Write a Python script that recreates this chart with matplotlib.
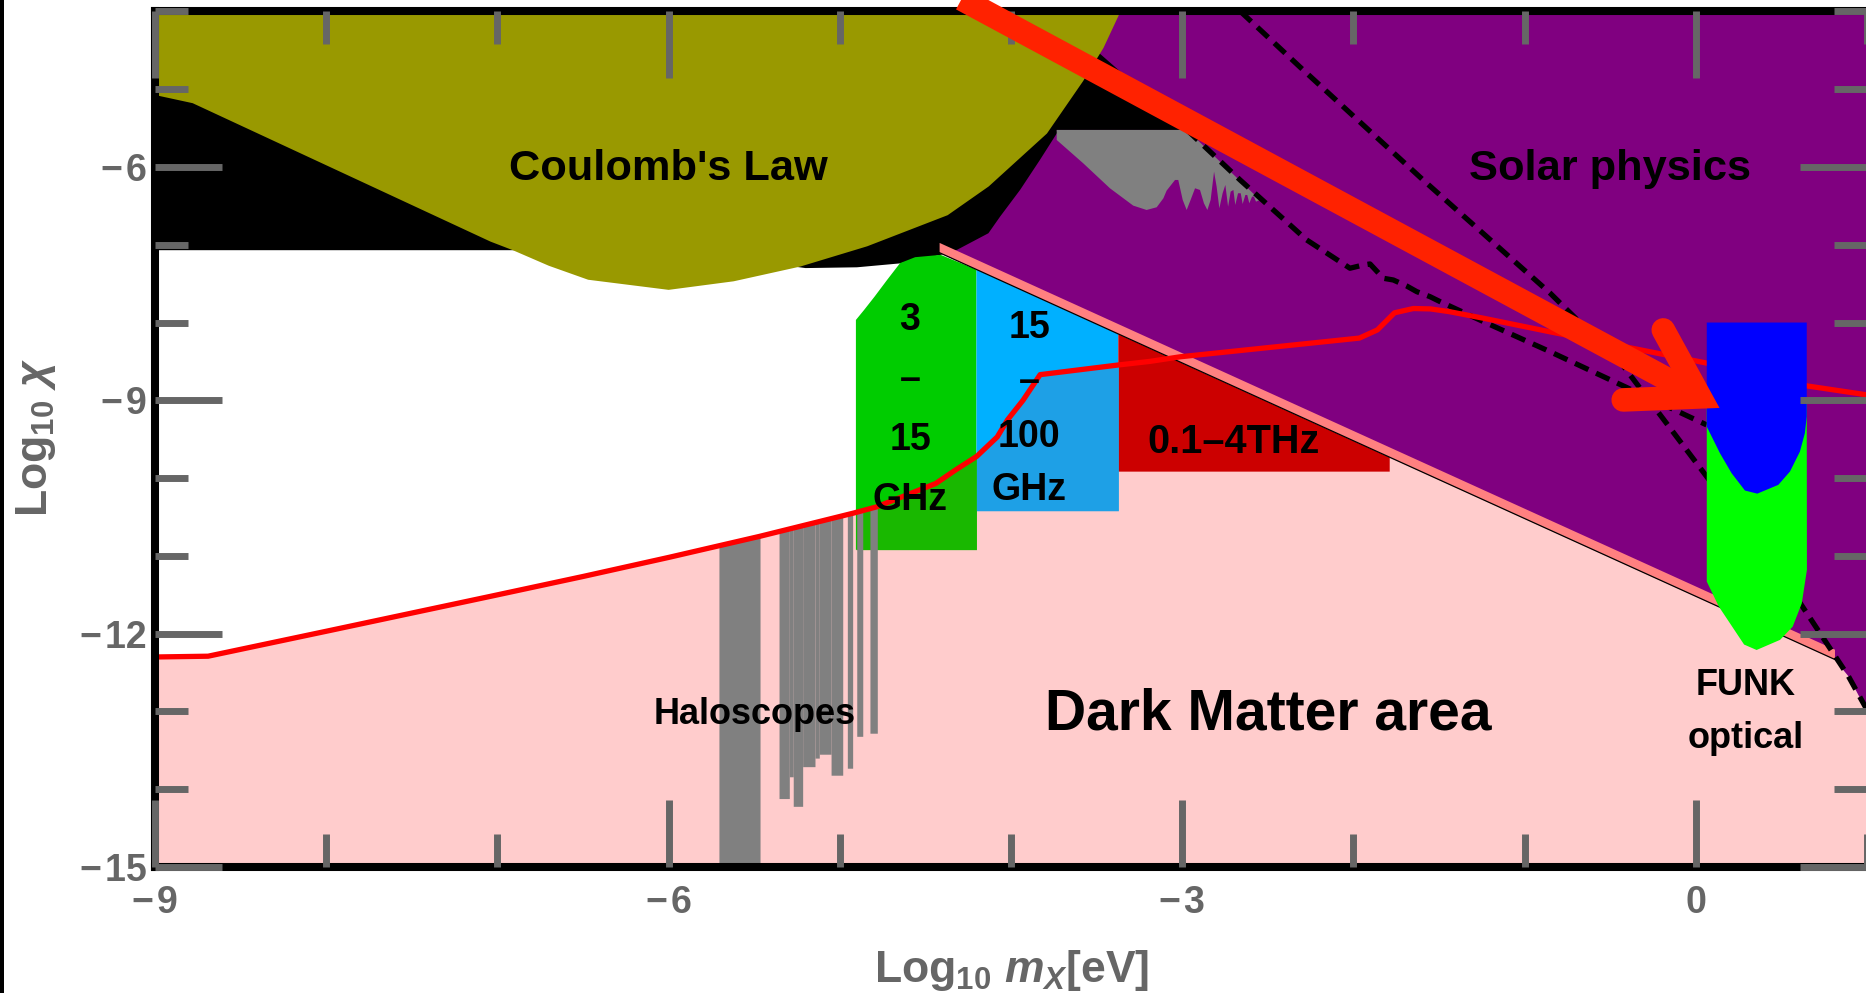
import numpy as np
import matplotlib
matplotlib.use("Agg")
import matplotlib.pyplot as plt
from matplotlib.patches import Polygon, Rectangle

plt.rcParams["font.family"] = ["Liberation Sans", "DejaVu Sans"]
plt.rcParams["mathtext.fontset"] = "custom"
plt.rcParams["mathtext.rm"] = "Liberation Sans:bold"
plt.rcParams["mathtext.it"] = "Liberation Sans:italic:bold"
plt.rcParams["mathtext.bf"] = "Liberation Sans:bold"

# ---------------- axes ----------------
X_LIM = (-9.0, 1.0)
Y_LIM = (-15.0, -4.0)
X_MAJOR = [-9, -6, -3, 0]
Y_MAJOR = [-15, -12, -9, -6]
X_MINOR = list(range(-9, 2))
Y_MINOR = list(range(-15, -3))

# ---------------- dark matter area edge (chi ~ 1/m) and its steep tail ----------------
DIAG_X = [-4.42, 0.81]
DIAG_Y = [-7.10, -12.33]
DM_EDGE_X = [-7.52, 0.81, 0.892, 1.0]
DM_EDGE_Y = [-4.0, -12.33, -12.55, -13.0]

# ---------------- solar physics region ----------------
SOLAR_X = [-4.42, 1.0, 1.0, 0.892, 0.81, -4.42]
SOLAR_Y = [-4.0, -4.0, -13.0, -12.55, -12.33, -7.10]

# ---------------- black exclusion band ----------------
BLACK_X = [-9.0, -9.0, -6.0, -5.2, -4.9, -4.65, -4.41, -4.316, -4.132, -4.064,
           -3.947, -3.831, -3.731, -3.733, -2.972, -3.492, -3.76]
BLACK_Y = [-4.0, -7.07, -7.07, -7.30, -7.29, -7.24, -7.13, -7.066, -6.852, -6.639,
           -6.295, -5.909, -5.563, -5.524, -5.524, -4.522, -4.0]

# ---------------- Coulomb's law ----------------
COULOMB_X = [-9.0, -9.0, -8.78, -7.04, -6.91, -6.70, -6.47, -6.0, -5.62, -5.23, -4.84,
             -4.37, -4.13, -3.95, -3.79, -3.58, -3.46, -3.36]
COULOMB_Y = [-4.0, -5.075, -5.18, -6.96, -7.07, -7.27, -7.45, -7.58, -7.47, -7.28, -7.02,
             -6.62, -6.25, -5.89, -5.57, -4.90, -4.47, -4.0]

# ---------------- light-shining-through-wall region (gray) ----------------
LSW_X = [-3.733, -2.972, -2.546, -2.569, -2.581, -2.592, -2.608, -2.620, -2.631, -2.647,
         -2.658, -2.674, -2.690, -2.701, -2.717, -2.732, -2.748, -2.764, -2.783, -2.799,
         -2.814, -2.834, -2.853, -2.873, -2.896, -2.925, -2.951, -2.974, -2.997, -3.023,
         -3.042, -3.091, -3.110, -3.149, -3.208, -3.286, -3.422, -3.578, -3.733]
LSW_Y = [-5.524, -5.524, -6.424, -6.446, -6.381, -6.381, -6.467, -6.360, -6.360, -6.476,
         -6.338, -6.338, -6.488, -6.296, -6.317, -6.510, -6.231, -6.338, -6.531, -6.253,
         -6.060, -6.424, -6.553, -6.467, -6.296, -6.274, -6.424, -6.553, -6.424, -6.167,
         -6.167, -6.304, -6.403, -6.518, -6.553, -6.497, -6.274, -5.953, -5.653]

# ---------------- red sensitivity curve ----------------
RED_X = [-9.0, -8.69, -7.98, -7.04, -6.50, -6.00, -5.47, -4.92, -4.785, -4.44, -4.32,
         -4.20, -4.08, -4.02, -3.93, -3.83, -3.37, -3.19, -3.01, -1.965, -1.86, -1.76,
         -1.65, -1.55, -1.44, -1.24, -0.85, 0.06, 0.65, 1.0]
RED_Y = [-12.30, -12.29, -11.96, -11.52, -11.265, -11.02, -10.75, -10.45, -10.37, -10.07,
         -9.89, -9.72, -9.47, -9.25, -9.00, -8.67, -8.545, -8.50, -8.44, -8.20, -8.095,
         -7.875, -7.82, -7.825, -7.86, -7.945, -8.12, -8.52, -8.815, -8.93]

# ---------------- dashed limits ----------------
DASH_A_X = [-2.66, -2.312, -1.593, -0.852, -0.437, 0.065, 0.609, 0.892, 1.0]
DASH_A_Y = [-4.0, -4.715, -6.167, -7.620, -8.519, -9.985, -11.605, -12.55, -12.98]
DASH_B_X = [-2.972, -2.662, -2.273, -2.020, -1.942, -1.903, -1.825, -1.767, -1.689,
            -1.630, -1.553, -1.494, -1.241, -0.852, 0.063]
DASH_B_Y = [-5.524, -6.167, -6.938, -7.302, -7.260, -7.247, -7.431, -7.453, -7.530,
            -7.603, -7.667, -7.731, -7.988, -8.374, -9.316]

# ---------------- frequency bands: 3 GHz, 15 GHz, 100 GHz, 4 THz ----------------
BAND_EDGES = [-4.906, -4.202, -3.373, -1.788]
BAND_BOTTOMS = [-10.92, -10.42, -9.917]
GREEN_CORNER_X = [-4.906, -4.858, -4.797, -4.724, -4.648, -4.56, -4.411]
GREEN_CORNER_Y = [-7.967, -7.838, -7.667, -7.453, -7.236, -7.16, -7.13]

# ---------------- haloscopes: (left, right, lower limit) ----------------
HALO_LEFT = [-5.706, -5.355, -5.295, -5.272, -5.217, -5.145, -5.120, -5.051, -4.956, -4.901, -4.824]
HALO_RIGHT = [-5.466, -5.295, -5.272, -5.217, -5.145, -5.120, -5.051, -4.983, -4.925, -4.866, -4.781]
HALO_BOTTOM = [-15.0, -14.12, -13.84, -14.22, -13.71, -13.60, -13.55, -13.82, -13.73, -13.32, -13.28]

# ---------------- FUNK ----------------
FUNK_BLUE_X = [0.064, 0.064, 0.141, 0.209, 0.287, 0.359, 0.482, 0.55, 0.608, 0.637, 0.648, 0.648]
FUNK_BLUE_Y = [-8.0, -9.338, -9.68, -9.937, -10.16, -10.20, -10.087, -9.916, -9.66, -9.423, -9.21, -8.0]
FUNK_GREEN_X = [0.064, 0.648, 0.649, 0.619, 0.566, 0.492, 0.355, 0.282, 0.134, 0.064]
FUNK_GREEN_Y = [-9.0, -9.0, -11.18, -11.61, -11.91, -12.08, -12.21, -12.14, -11.65, -11.33]

# ---------------- pointer arrow ----------------
ARROW_TAIL = (-4.66, -3.40)
ARROW_VERTEX = (0.0245, -8.956)
ARROW_BARBS = [(-0.190, -8.095), (-0.424, -8.995)]

PINK = "#FFCCCC"
PURPLE = "#800080"
OLIVE = "#999900"
GRAY = "#808080"
SALMON = "#FF8080"
TICK_GRAY = "#666666"
ARROW_RED = "#FF2200"
MINUS = "\u2212\u200a"

fig = plt.figure(figsize=(18.66, 9.93), dpi=100)
ax = fig.add_axes([0.08307, 0.12689, 0.91747, 0.86163])
ax.set_xlim(*X_LIM)
ax.set_ylim(*Y_LIM)


def poly(xs, ys, color, z):
    ax.add_patch(Polygon(np.column_stack([xs, ys]), closed=True,
                         facecolor=color, edgecolor="none", zorder=z))


def red_at(x):
    return np.interp(x, RED_X, RED_Y)


def diag_at(x):
    return np.interp(x, DIAG_X, DIAG_Y)


# dark matter area
poly([X_LIM[0], X_LIM[0]] + DM_EDGE_X + [X_LIM[1]],
     [Y_LIM[0], Y_LIM[1]] + DM_EDGE_Y + [Y_LIM[0]], PINK, 1.0)

# open parameter space above the red curve
rx = np.array(RED_X)
ry = np.array(RED_Y)
keep = rx <= -4.2
poly(list(rx[keep]) + [-4.2, -9.0], list(ry[keep]) + [-4.0, -4.0], "white", 1.05)

poly(SOLAR_X, SOLAR_Y, PURPLE, 1.1)
poly(BLACK_X, BLACK_Y, "black", 1.2)
poly(COULOMB_X, COULOMB_Y, OLIVE, 1.3)
poly(LSW_X, LSW_Y, GRAY, 1.4)

# frequency bands
g0, g1, b1, t1 = BAND_EDGES
gx = [g0] + GREEN_CORNER_X + [g1, g1]
gy = [BAND_BOTTOMS[0]] + GREEN_CORNER_Y + [float(diag_at(g1)), BAND_BOTTOMS[0]]
poly(gx, gy, "#00CC00", 1.5)
xs = np.linspace(g0, g1, 200)
ax.fill_between(xs, BAND_BOTTOMS[0], red_at(xs), color="#19B800", lw=0, zorder=1.51)

poly([g1, g1, b1, b1], [BAND_BOTTOMS[1], diag_at(g1), diag_at(b1), BAND_BOTTOMS[1]], "#00B0FF", 1.5)
xs = np.linspace(g1, b1, 200)
ax.fill_between(xs, BAND_BOTTOMS[1], red_at(xs), color="#1EA0E6", lw=0, zorder=1.51)

poly([b1, b1, t1, t1], [BAND_BOTTOMS[2], diag_at(b1), diag_at(t1), BAND_BOTTOMS[2]], "#CC0000", 1.5)

# edge of the dark matter area
dx = np.array(DIAG_X)
dy = np.array(DIAG_Y)
ax.fill_between(dx, dy, dy + 0.13, color=SALMON, lw=0, zorder=1.6)
ax.plot(dx, dy, color="black", lw=0.9, zorder=1.65)

# haloscope exclusions, reaching up to the red curve
for x0, x1, b in zip(HALO_LEFT, HALO_RIGHT, HALO_BOTTOM):
    xs = np.linspace(x0, x1, 20)
    ax.fill_between(xs, b, red_at(xs), color=GRAY, lw=0, zorder=1.7)

ax.plot(DASH_A_X, DASH_A_Y, color="black", lw=3.8, ls=(0, (2.8, 1.6)), zorder=1.8)
ax.plot(DASH_B_X, DASH_B_Y, color="black", lw=3.8, ls=(0, (2.8, 1.6)), zorder=1.8)
ax.plot(RED_X, RED_Y, color="#FF0000", lw=3.8, zorder=1.9, solid_joinstyle="round")

poly(FUNK_GREEN_X, FUNK_GREEN_Y, "#00FF00", 2.0)
poly(FUNK_BLUE_X, FUNK_BLUE_Y, "#0000FF", 2.05)


# labels inside the plot
def label(x, y, s, size):
    ax.text(x, y, s, ha="center", va="baseline", fontsize=size, fontweight="bold",
            color="black", zorder=2.2)


label(-6.0, -6.167, "Coulomb's Law", 31.2)
label(-0.50, -6.167, "Solar physics", 31.2)
label(-2.495, -13.237, "Dark Matter area", 41)
label(-5.50, -13.16, "Haloscopes", 26)
label(0.291, -12.787, "FUNK", 26)
label(0.291, -13.47, "optical", 26)
for y, s in zip([-8.095, -8.87, -9.637, -10.409], ["3", "\u2013", "15", "GHz"]):
    label(-4.59, y, s, 27)
for y, s in zip([-8.202, -8.896, -9.595, -10.28], ["15", "\u2013", "100", "GHz"]):
    label(-3.893, y, s, 27)
label(-2.698, -9.68, "0.1\u20134THz", 28.5)

# pointer arrow
ax.plot([ARROW_TAIL[0], ARROW_VERTEX[0]], [ARROW_TAIL[1], ARROW_VERTEX[1]],
        color=ARROW_RED, lw=17, solid_capstyle="butt", clip_on=False, zorder=3)
ax.plot([ARROW_BARBS[0][0], ARROW_VERTEX[0], ARROW_BARBS[1][0]],
        [ARROW_BARBS[0][1], ARROW_VERTEX[1], ARROW_BARBS[1][1]],
        color=ARROW_RED, lw=17, solid_capstyle="round", solid_joinstyle="miter",
        clip_on=False, zorder=3)

# frame and ticks
ax.set_axisbelow(False)
for sp in ax.spines.values():
    sp.set_linewidth(5.8)
    sp.set_color("black")
ax.set_xticks(X_MAJOR)
ax.set_xticks(X_MINOR, minor=True)
ax.set_yticks(Y_MAJOR)
ax.set_yticks(Y_MINOR, minor=True)
ax.set_xticklabels([str(v).replace("-", MINUS) for v in X_MAJOR], fontweight="bold")
ax.set_yticklabels([str(v).replace("-", MINUS) for v in Y_MAJOR], fontweight="bold")
ax.tick_params(which="both", direction="in", top=True, right=True, color=TICK_GRAY,
               labelcolor=TICK_GRAY, width=5, labelsize=27)
ax.tick_params(which="major", length=48)
ax.tick_params(which="minor", length=24)
ax.tick_params(axis="x", which="major", pad=13)
ax.tick_params(axis="y", which="major", pad=6)

fig.text(1011.7 / 1866, 1 - 981.7 / 993, r"Log$_{10}$ $m_X$[eV]", ha="center", va="baseline",
         fontsize=32, fontweight="bold", color=TICK_GRAY)
fig.text(47 / 1866, 1 - 437.5 / 993, r"Log$_{10}$ $\chi$", ha="center", va="baseline",
         rotation=90, rotation_mode="anchor", fontsize=32, fontweight="bold", color=TICK_GRAY)

fig.add_artist(Rectangle((0, 0), 4 / 1866, 1, transform=fig.transFigure,
                         facecolor="black", edgecolor="none"))

fig.savefig("out.png", dpi=100)
